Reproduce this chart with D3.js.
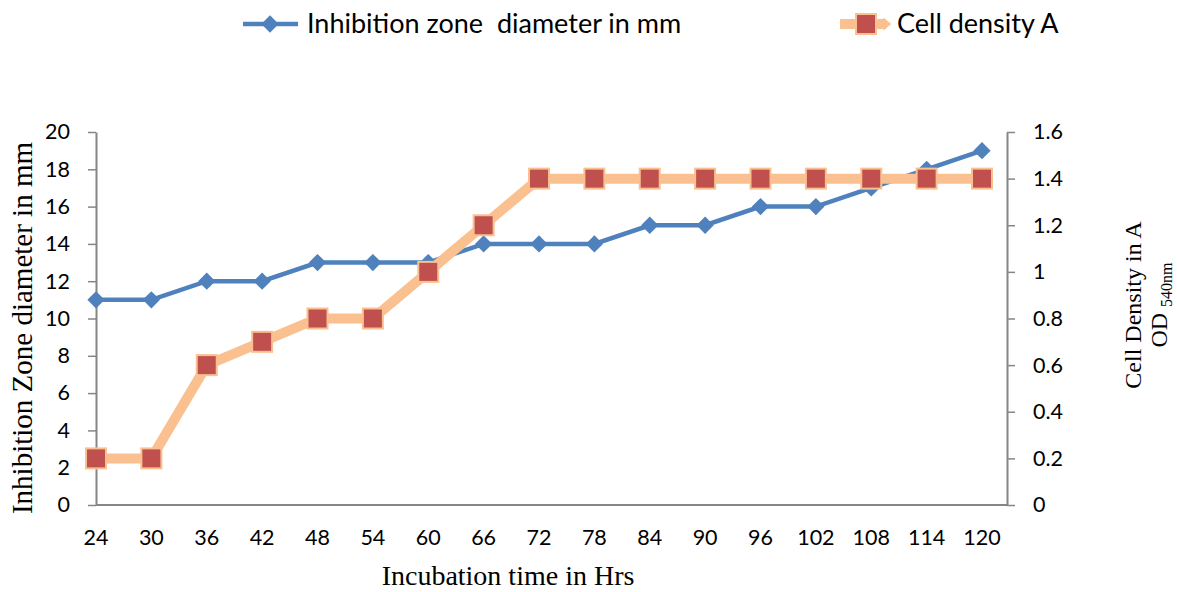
<!DOCTYPE html>
<html>
<head>
<meta charset="utf-8">
<script src="https://cdn.jsdelivr.net/npm/d3@7"></script>
<style>
  body { margin: 0; background: #fff; }
  svg { display: block; }
</style>
</head>
<body>
<svg width="1177" height="592"></svg>
<script>
// data
var hours = [24, 30, 36, 42, 48, 54, 60, 66, 72, 78, 84, 90, 96, 102, 108, 114, 120];
var zoneDiameter = [11, 11, 12, 12, 13, 13, 13, 14, 14, 14, 15, 15, 16, 16, 17, 18, 19];
var cellDensity = [0.2, 0.2, 0.6, 0.7, 0.8, 0.8, 1.0, 1.2, 1.4, 1.4, 1.4, 1.4, 1.4, 1.4, 1.4, 1.4, 1.4];
var leftTicks = [0, 2, 4, 6, 8, 10, 12, 14, 16, 18, 20];
var rightTicks = [0, 0.2, 0.4, 0.6, 0.8, 1, 1.2, 1.4, 1.6];

var svg = d3.select("svg"),
    marginLeft = 96, marginTop = 132,
    width = 911, height = 373;

var blue = "#4F81BD", orange = "#FAC090", red = "#C0504D", gray = "#868686";
var tickFont = "Lato, 'Open Sans', sans-serif";
var serif = "'Liberation Serif', 'DejaVu Serif', serif";

var g = svg.append("g")
    .attr("transform", "translate(" + marginLeft + "," + marginTop + ")");

var x = d3.scalePoint().domain(hours).range([0, 886]);
var yL = d3.scaleLinear().domain([0, 20]).range([height, 0]);
var yR = d3.scaleLinear().domain([0, 1.6]).range([height, 0]);

// axes
var axL = g.append("g")
    .call(d3.axisLeft(yL).tickValues(leftTicks).tickSize(8).tickSizeOuter(0).tickPadding(18));
var axR = g.append("g")
    .attr("transform", "translate(" + width + ",0)")
    .call(d3.axisRight(yR).tickValues(rightTicks).tickSize(8).tickSizeOuter(0).tickPadding(18)
      .tickFormat(function(d) { return String(+d.toFixed(1)); }));

g.append("line")
    .attr("x1", 0).attr("x2", width)
    .attr("y1", height).attr("y2", height)
    .attr("stroke", gray).attr("stroke-width", 2);

g.append("g").selectAll("text")
    .data(hours)
    .enter().append("text")
    .attr("x", function(d) { return x(d); })
    .attr("y", height + 40)
    .attr("text-anchor", "middle")
    .style("font-family", tickFont)
    .style("font-size", "21.5px")
    .text(function(d) { return d; });

[axL, axR].forEach(function(a) {
  a.select(".domain").attr("stroke", gray).attr("stroke-width", 2);
  a.selectAll(".tick line").attr("stroke", gray).attr("stroke-width", 1.5);
  a.selectAll(".tick text")
    .style("font-family", tickFont)
    .style("font-size", "21.5px")
    .attr("fill", "#000");
});

// blue series
var lineL = d3.line()
    .x(function(d, i) { return x(hours[i]); })
    .y(function(d) { return yL(d); });

g.append("path")
    .datum(zoneDiameter)
    .attr("d", lineL)
    .attr("fill", "none")
    .attr("stroke", blue)
    .attr("stroke-width", 4.5);

var diamond = d3.symbol().type(d3.symbolDiamond2).size(190);
g.append("g").selectAll("path")
    .data(zoneDiameter)
    .enter().append("path")
    .attr("transform", function(d, i) { return "translate(" + x(hours[i]) + "," + yL(d) + ")"; })
    .attr("d", diamond)
    .attr("fill", blue);

// orange series
svg.append("defs").append("marker")
    .attr("id", "tip")
    .attr("viewBox", "0 -5 10 10")
    .attr("refX", 2).attr("refY", 0)
    .attr("markerWidth", 1.3).attr("markerHeight", 1.3)
    .attr("orient", "auto")
    .append("path")
    .attr("d", "M0,-5L6,0L0,5Z")
    .attr("fill", orange);

var lineR = d3.line()
    .x(function(d, i) { return x(hours[i]); })
    .y(function(d) { return yR(d); });

g.append("path")
    .datum(cellDensity)
    .attr("d", lineR)
    .attr("fill", "none")
    .attr("stroke", orange)
    .attr("stroke-width", 10)
    .attr("stroke-linejoin", "round")
    .attr("marker-end", "url(#tip)");

g.append("g").selectAll("rect")
    .data(cellDensity)
    .enter().append("rect")
    .attr("x", function(d, i) { return x(hours[i]) - 10; })
    .attr("y", function(d) { return yR(d) - 10; })
    .attr("width", 20).attr("height", 20)
    .attr("fill", red)
    .attr("stroke", orange)
    .attr("stroke-width", 2);

// axis titles
svg.append("text")
    .attr("transform", "translate(32," + 328 + ") rotate(-90)")
    .attr("text-anchor", "middle")
    .style("font-family", serif)
    .style("font-size", "29px")
    .text("Inhibition Zone diameter in mm");

svg.append("text")
    .attr("x", 508).attr("y", 585)
    .attr("text-anchor", "middle")
    .style("font-family", serif)
    .style("font-size", "28px")
    .text("Incubation time in Hrs");

svg.append("text")
    .attr("transform", "translate(1141,305) rotate(-90)")
    .attr("text-anchor", "middle")
    .style("font-family", serif)
    .style("font-size", "24px")
    .text("Cell Density in A");

var od = svg.append("text")
    .attr("transform", "translate(1167,305) rotate(-90)")
    .attr("text-anchor", "middle")
    .style("font-family", serif)
    .style("font-size", "24px");
od.append("tspan").text("OD ");
od.append("tspan").attr("dy", 5).style("font-size", "16px").text("540nm");

// legend
var leg = svg.append("g");
leg.append("line")
    .attr("x1", 243).attr("x2", 298).attr("y1", 24).attr("y2", 24)
    .attr("stroke", blue).attr("stroke-width", 4.5);
leg.append("path")
    .attr("transform", "translate(270,24)")
    .attr("d", diamond)
    .attr("fill", blue);
leg.append("text")
    .attr("x", 307).attr("y", 33)
    .style("font-family", tickFont)
    .style("font-size", "27px")
    .style("white-space", "pre")
    .attr("xml:space", "preserve")
    .text("Inhibition zone  diameter in mm");

leg.append("line")
    .attr("x1", 840).attr("x2", 886).attr("y1", 24).attr("y2", 24)
    .attr("stroke", orange).attr("stroke-width", 10)
    .attr("marker-end", "url(#tip)");
leg.append("rect")
    .attr("x", 856).attr("y", 14).attr("width", 20).attr("height", 20)
    .attr("fill", red).attr("stroke", orange).attr("stroke-width", 2);
leg.append("text")
    .attr("x", 897).attr("y", 33)
    .style("font-family", tickFont)
    .style("font-size", "27px")
    .text("Cell density A");
</script>
</body>
</html>
